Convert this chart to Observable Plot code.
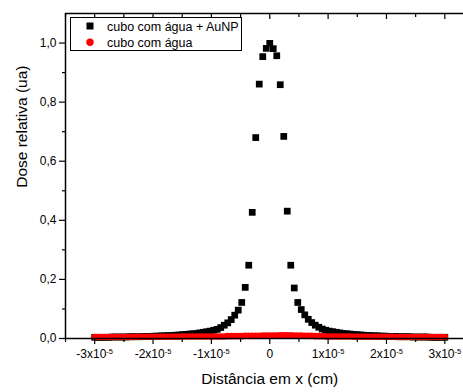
<!DOCTYPE html>
<html>
<head>
<meta charset="utf-8">
<script src="https://cdn.jsdelivr.net/npm/d3@7"></script>
<script src="https://cdn.jsdelivr.net/npm/@observablehq/plot@0.6"></script>
<style>
  html, body { margin: 0; padding: 0; background: #fff; overflow: hidden; }
  #chart svg { display: block; }
</style>
</head>
<body>
<div id="chart"></div>
<script>
// ---- data ----
const xStep = 0.6e-6; // sample spacing (cm)
const sampleIndex = [
  -50,-49,-48,-47,-46,-45,-44,-43,-42,-41,-40,-39,-38,-37,-36,-35,-34,-33,-32,-31,
  -30,-29,-28,-27,-26,-25,-24,-23,-22,-21,-20,-19,-18,-17,-16,-15,-14,-13,-12,-11,
  -10,-9,-8,-7,-6,-5,-4,-3,-2,-1,0,1,2,3,4,5,6,7,8,9,10,
  11,12,13,14,15,16,17,18,19,20,21,22,23,24,25,26,27,28,29,30,
  31,32,33,34,35,36,37,38,39,40,41,42,43,44,45,46,47,48,49,50
];
const doseAuNP = [
  0.004,0.004,0.004,0.004,0.004,0.005,0.005,0.005,0.005,0.005,
  0.006,0.006,0.006,0.006,0.007,0.007,0.007,0.008,0.008,0.009,
  0.009,0.010,0.010,0.011,0.012,0.013,0.014,0.015,0.016,0.017,
  0.019,0.021,0.023,0.025,0.028,0.031,0.037,0.045,0.053,0.064,
  0.079,0.096,0.122,0.173,0.248,0.427,0.680,0.861,0.954,0.982,
  0.999,
  0.981,0.957,0.859,0.684,0.431,0.248,0.171,0.122,0.098,0.080,
  0.065,0.054,0.045,0.038,0.032,0.028,0.025,0.023,0.021,0.019,
  0.017,0.016,0.015,0.014,0.013,0.012,0.011,0.010,0.010,0.009,
  0.009,0.008,0.008,0.007,0.007,0.007,0.006,0.006,0.006,0.006,
  0.005,0.005,0.005,0.005,0.005,0.004,0.004,0.004,0.004,0.004
];
const doseWater = [
  0.005,0.005,0.005,0.005,0.005,0.005,0.005,0.005,0.005,0.005,
  0.005,0.005,0.006,0.006,0.006,0.006,0.006,0.006,0.006,0.006,
  0.006,0.006,0.006,0.006,0.006,0.007,0.007,0.007,0.007,0.007,
  0.007,0.007,0.007,0.007,0.007,0.007,0.007,0.007,0.008,0.008,
  0.008,0.008,0.008,0.009,0.009,0.009,0.009,0.009,0.010,0.010,
  0.010,
  0.010,0.010,0.011,0.011,0.011,0.011,0.010,0.010,0.010,0.009,
  0.009,0.009,0.008,0.008,0.008,0.007,0.007,0.007,0.007,0.007,
  0.007,0.007,0.007,0.006,0.006,0.006,0.006,0.006,0.006,0.006,
  0.006,0.006,0.006,0.006,0.006,0.005,0.005,0.005,0.005,0.005,
  0.005,0.005,0.005,0.005,0.005,0.005,0.005,0.005,0.005,0.005
];
const seriesNames = ["cubo com água + AuNP", "cubo com água"];
const xMajor = [-3e-5, -2e-5, -1e-5, 0, 1e-5, 2e-5, 3e-5];
const xMajorLabels = ["-3x10^-5", "-2x10^-5", "-1x10^-5", "0", "1x10^-5", "2x10^-5", "3x10^-5"];
const xMinor = [-3.5e-5, -2.5e-5, -1.5e-5, -0.5e-5, 0.5e-5, 1.5e-5, 2.5e-5];
const yMajor = [0, 0.2, 0.4, 0.6, 0.8, 1.0];
const yMajorLabels = ["0,0", "0,2", "0,4", "0,6", "0,8", "1,0"];
const yMinor = [0.1, 0.3, 0.5, 0.7, 0.9];
const xLabel = "Distância em x (cm)";
const yLabel = "Dose relativa (ua)";

// ---- build tables ----
const auData = sampleIndex.map((k, i) => ({x: k * xStep, y: doseAuNP[i]}));
const waterData = sampleIndex.map((k, i) => ({x: k * xStep, y: doseWater[i]}));
const xFmt = new Map(xMajor.map((v, i) => [v, xMajorLabels[i]]));
const yFmt = new Map(yMajor.map((v, i) => [v, yMajorLabels[i]]));

const font = "'Liberation Sans', Arial, Helvetica, sans-serif";

const chart = Plot.plot({
  width: 463,
  height: 392,
  marginLeft: 65,
  marginRight: 0,
  marginTop: 13,
  marginBottom: 54,
  style: {fontFamily: font, fontSize: "12px", color: "#000", background: "#fff", overflow: "hidden"},
  x: {domain: [-3.5e-5, 3.32e-5], label: null},
  y: {domain: [0, 1.1], label: null},
  marks: [
    Plot.dot(auData, {x: "x", y: "y", symbol: "square", r: 3.8, fill: "#000", stroke: "none"}),
    Plot.dot(waterData, {x: "x", y: "y", symbol: "circle", r: 3.3, fill: "#ff0000", stroke: "none"}),
    // frame lines
    Plot.ruleY([0], {stroke: "#000", strokeWidth: 1.5}),
    Plot.ruleY([1.1], {stroke: "#000", strokeWidth: 1.5}),
    Plot.ruleX([-3.5e-5], {stroke: "#000", strokeWidth: 1.5}),
    // bottom axis
    Plot.axisX({anchor: "bottom", ticks: xMajor, tickSize: 6, tickPadding: 5, strokeWidth: 1.2,
      tickFormat: d => xFmt.get(d), fontSize: 12, label: null}),
    Plot.axisX({anchor: "bottom", ticks: xMinor, tickSize: 4, strokeWidth: 1.2,
      tickFormat: () => "", label: null}),
    // top axis (ticks inward)
    Plot.axisX({anchor: "top", ticks: xMajor, tickSize: -5, strokeWidth: 1.2,
      tickFormat: () => "", label: null}),
    Plot.axisX({anchor: "top", ticks: xMinor, tickSize: -3, strokeWidth: 1.2,
      tickFormat: () => "", label: null}),
    // left axis
    Plot.axisY({anchor: "left", ticks: yMajor, tickSize: 6, tickPadding: 3, strokeWidth: 1.2,
      tickFormat: d => yFmt.get(d), fontSize: 12, label: null}),
    Plot.axisY({anchor: "left", ticks: yMinor, tickSize: 3, strokeWidth: 1.2,
      tickFormat: () => "", label: null}),
    // axis titles
    Plot.text([xLabel], {x: 0, frameAnchor: "bottom", dy: 45, text: d => d, fontSize: 15.5, fill: "#000"}),
    Plot.text([yLabel], {y: 0.51, frameAnchor: "left", dx: -43, rotate: -90, text: d => d, fontSize: 15.5, fill: "#000"})
  ]
});

// superscript exponents on x tick labels
d3.select(chart).selectAll("text").each(function() {
  const t = this.textContent;
  if (t.includes("^")) {
    const [base, exp] = t.split("^");
    const sel = d3.select(this);
    sel.text(base);
    sel.append("tspan").attr("dy", "-0.55em").attr("font-size", "7.5px").text(exp);
  }
});

// legend
const svg = d3.select(chart);
const lg = svg.append("g").attr("font-family", font).attr("font-size", "12.5px").attr("text-anchor", "start");
lg.append("rect").attr("x", 70.5).attr("y", 17.5).attr("width", 171).attr("height", 33)
  .attr("fill", "#fff").attr("stroke", "#000").attr("stroke-width", 1);
lg.append("rect").attr("x", 86.5).attr("y", 22.5).attr("width", 7).attr("height", 7).attr("fill", "#000");
lg.append("circle").attr("cx", 90).attr("cy", 42.3).attr("r", 3.7).attr("fill", "#ff0000");
lg.append("text").attr("x", 107).attr("y", 30.5).attr("fill", "#000").attr("text-anchor", "start").text(seriesNames[0]);
lg.append("text").attr("x", 107).attr("y", 46.5).attr("fill", "#000").attr("text-anchor", "start").text(seriesNames[1]);

document.getElementById("chart").appendChild(chart);
</script>
</body>
</html>
